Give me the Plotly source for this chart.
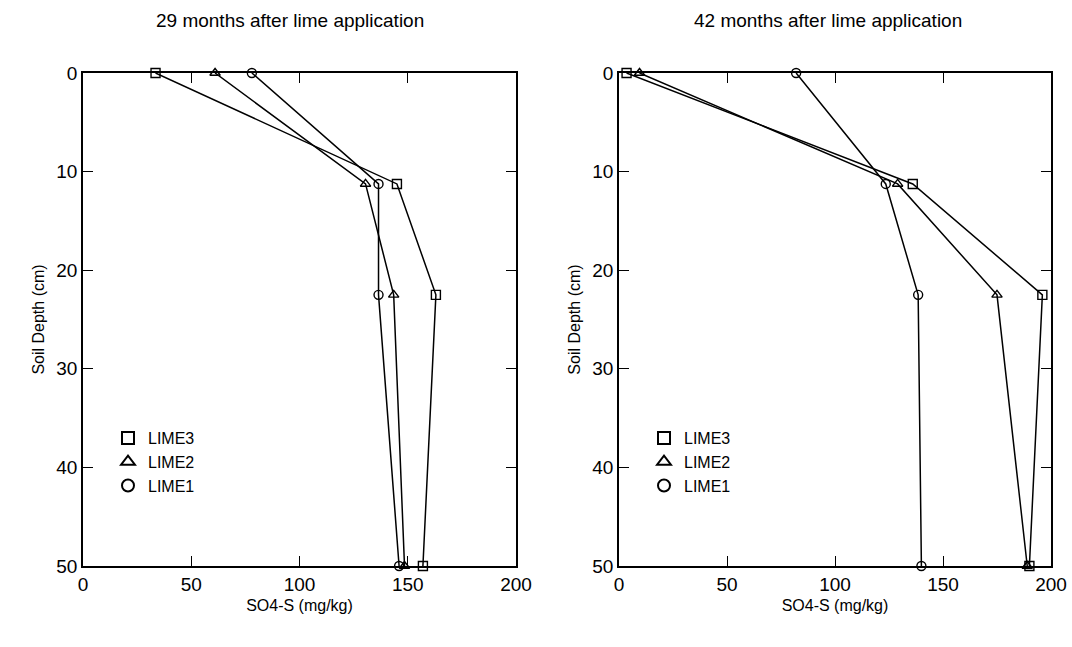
import plotly.graph_objects as go

depth = [0, 11.25, 22.5, 50]

# 29 months after lime application
left_lime3 = [33.5, 145, 163, 157]
left_lime2 = [61, 130.5, 143.5, 148.5]
left_lime1 = [78, 136.5, 136.5, 146]

# 42 months after lime application
right_lime3 = [3.5, 136, 196, 190]
right_lime2 = [9.5, 129, 175, 189]
right_lime1 = [82, 123.5, 138.5, 140]

titles = ["29 months after lime application", "42 months after lime application"]
series_names = ["LIME3", "LIME2", "LIME1"]
symbols = ["square-open", "triangle-up-open", "circle-open"]

W, H = 1072, 647
font_family = "Liberation Sans, Arial, sans-serif"

fig = go.Figure()

panels = [
    ("x", "y", "legend", [left_lime3, left_lime2, left_lime1]),
    ("x2", "y2", "legend2", [right_lime3, right_lime2, right_lime1]),
]

for xa, ya, lg, data in panels:
    for name, sym, vals in zip(series_names, symbols, data):
        fig.add_trace(go.Scatter(
            x=vals, y=depth, mode="lines+markers", xaxis=xa, yaxis=ya,
            line=dict(color="black", width=1.5),
            marker=dict(symbol=sym, size=9, color="black", line=dict(width=1.4, color="black")),
            showlegend=False, name=name, cliponaxis=False,
        ))
    for name, sym in zip(series_names, symbols):
        fig.add_trace(go.Scatter(
            x=[None], y=[None], mode="markers", xaxis=xa, yaxis=ya,
            marker=dict(symbol=sym, size=9, color="black", line=dict(width=1.4, color="black")),
            name=name, legend=lg, showlegend=True,
        ))

ydom = [1 - 566 / H, 1 - 73 / H]
xdom1 = [83 / W, 516 / W]
xdom2 = [619 / W, 1051 / W]

axis_common = dict(
    showgrid=False, zeroline=False, showline=True, linecolor="black", linewidth=1.5,
    mirror="ticks", ticks="inside", ticklen=10, tickwidth=1.3, tickcolor="black",
    tickfont=dict(size=19, color="black", family=font_family), automargin=False,
)

xaxis_common = dict(axis_common, range=[0, 200], tickvals=[0, 50, 100, 150, 200],
                    title=dict(text="SO4-S (mg/kg)", font=dict(size=16, color="black", family=font_family), standoff=6))
yaxis_common = dict(axis_common, range=[50, 0], tickvals=[0, 10, 20, 30, 40, 50],
                    title=dict(text="Soil Depth (cm)", font=dict(size=16, color="black", family=font_family), standoff=8))

fig.update_layout(
    width=W, height=H,
    margin=dict(l=0, r=0, t=0, b=0, autoexpand=False),
    paper_bgcolor="white", plot_bgcolor="white",
    font=dict(family=font_family, color="black"),
    xaxis=dict(xaxis_common, domain=xdom1, anchor="y"),
    yaxis=dict(yaxis_common, domain=ydom, anchor="x"),
    xaxis2=dict(xaxis_common, domain=xdom2, anchor="y2"),
    yaxis2=dict(yaxis_common, domain=ydom, anchor="x2"),
    legend=dict(x=108 / W, y=1 - 421 / H, xanchor="left", yanchor="top",
                bgcolor="rgba(0,0,0,0)", font=dict(size=16, color="black", family=font_family),
                itemsizing="constant", tracegroupgap=0),
    legend2=dict(x=644 / W, y=1 - 421 / H, xanchor="left", yanchor="top",
                 bgcolor="rgba(0,0,0,0)", font=dict(size=16, color="black", family=font_family),
                 itemsizing="constant", tracegroupgap=0),
    annotations=[
        dict(text=titles[0], x=290 / W, y=1 - 21 / H, xref="paper", yref="paper",
             xanchor="center", yanchor="middle",
             showarrow=False, font=dict(size=19, color="black", family=font_family)),
        dict(text=titles[1], x=828 / W, y=1 - 21 / H, xref="paper", yref="paper",
             xanchor="center", yanchor="middle",
             showarrow=False, font=dict(size=19, color="black", family=font_family)),
    ],
)

fig.write_html("out.html")
